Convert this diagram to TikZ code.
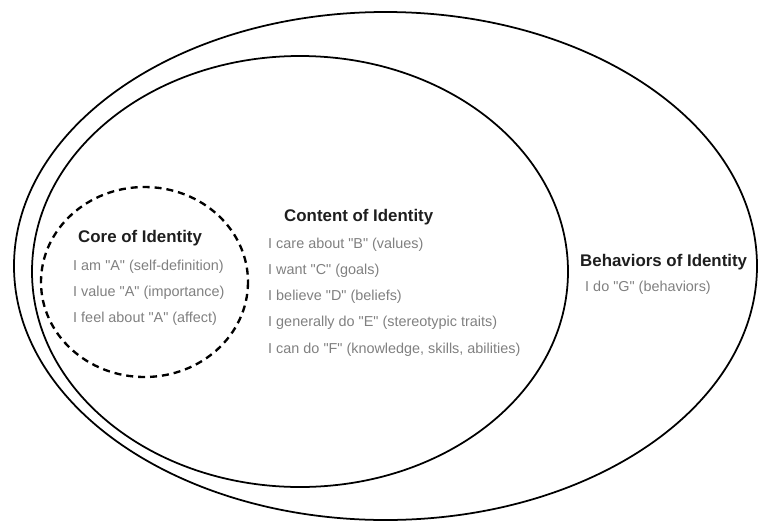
\documentclass[tikz,border=0pt]{standalone}
\usepackage{fontspec}
\setmainfont{Liberation Sans}
\usepackage{xcolor}
\definecolor{itemgray}{RGB}{128,128,128}
\definecolor{titleblack}{RGB}{30,30,30}
\newcommand{\quoted}[1]{\textquotedbl#1\textquotedbl}

\begin{document}
\begin{tikzpicture}
    [x=0.03cm, y=-0.03cm,
    ring/.style={draw=black, line width=1.5pt},
    corering/.style={draw=black, line width=2pt, dash pattern=on 6pt off 4.2pt},
    title/.style={anchor=west, inner sep=0pt, text=titleblack, font=\fontsize{14.4}{16}\selectfont\bfseries},
    item/.style={anchor=west, inner sep=0pt, text=itemgray, font=\fontsize{12.3}{14}\selectfont}]
\useasboundingbox (0,0) rectangle (760,526);
\draw[ring] (385.5,266) ellipse [x radius=371.5, y radius=254];
\draw[ring] (300,271.5) ellipse [x radius=268, y radius=215.5];
\draw[corering] (144.5,282) ellipse [x radius=103.5, y radius=95];
\node[title] (coretitle) at (78,238) {Core of Identity};
\node[item] (core1) at (73,267) {I am \quoted{A} (self-definition)};
\node[item] (core2) at (73,293) {I value \quoted{A} (importance)};
\node[item] (core3) at (73,319) {I feel about \quoted{A} (affect)};
\node[title] (contenttitle) at (284,217) {Content of Identity};
\node[item] (content1) at (268,245) {I care about \quoted{B} (values)};
\node[item] (content2) at (268,270.5) {I want \quoted{C} (goals)};
\node[item] (content3) at (268,296.5) {I believe \quoted{D} (beliefs)};
\node[item] (content4) at (268,323) {I generally do \quoted{E} (stereotypic traits)};
\node[item] (content5) at (268,350) {I can do \quoted{F} (knowledge, skills, abilities)};
\node[title] (behavtitle) at (580,262) {Behaviors of Identity};
\node[item] (behav1) at (585,288) {I do \quoted{G} (behaviors)};
\end{tikzpicture}
\end{document}
